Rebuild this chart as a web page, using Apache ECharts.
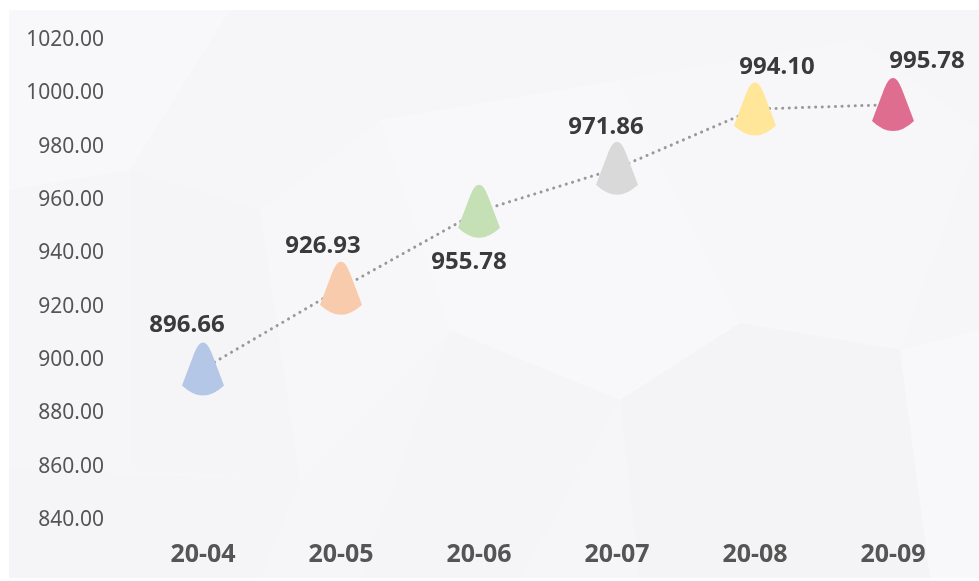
<!DOCTYPE html>
<html>
<head>
<meta charset="utf-8">
<script src="https://cdn.jsdelivr.net/npm/echarts@6/dist/echarts.min.js"></script>
<style>
  html, body { margin: 0; padding: 0; background: #fff; }
  #chart { width: 979px; height: 581px; }
</style>
</head>
<body>
<div id="chart"></div>
<script>
// 数据
var months = ["20-04", "20-05", "20-06", "20-07", "20-08", "20-09"];
var values = [896.66, 926.93, 955.78, 971.86, 994.10, 995.78];

// 样式（与数据分开）
var coneColors = ["#b4c7e7", "#f8cbad", "#c5e0b4", "#d9d9d9", "#ffe699", "#df6d8f"];
var labelPos = ["top", "top", "bottom", "top", "top", "top"];
var labelOffset = [[-16, -2], [-18, -1], [-10, 1], [-11, 0], [22, 0], [34, -2]];

// 锥形标记
var conePath = "path://M21,0 C25,0 28,6 31,14 L42,43 Q21,63 0,43 L11,14 C14,6 17,0 21,0 Z";

var chart = echarts.init(document.getElementById("chart"));

// 浅灰低多边形背景
var polys = [
  { pts: [[9, 10], [979, 10], [979, 578], [9, 578]], fill: "#f6f6f8" },
  { pts: [[9, 10], [230, 10], [130, 170], [9, 190]], fill: "#f8f8fa" },
  { pts: [[130, 170], [260, 210], [300, 480], [130, 470]], fill: "#f5f5f7" },
  { pts: [[260, 210], [380, 120], [450, 330], [300, 480]], fill: "#f7f7f9" },
  { pts: [[450, 330], [620, 400], [520, 578], [360, 578]], fill: "#f5f5f7" },
  { pts: [[620, 400], [740, 323], [900, 350], [930, 578], [640, 578]], fill: "#f4f4f6" },
  { pts: [[620, 80], [860, 40], [979, 130], [900, 350], [740, 323]], fill: "#f7f7f9" },
  { pts: [[380, 120], [620, 80], [740, 323], [620, 400], [450, 330]], fill: "#f8f8fa" },
  { pts: [[9, 470], [300, 480], [260, 578], [9, 578]], fill: "#f5f5f7" },
  { pts: [[900, 350], [979, 330], [979, 578], [930, 578]], fill: "#f8f8fa" }
];

var option = {
  backgroundColor: "#ffffff",
  textStyle: { fontFamily: "Noto Sans" },
  graphic: polys.map(function (p) {
    return {
      type: "polygon",
      silent: true,
      z: -10,
      shape: { points: p.pts },
      style: { fill: p.fill }
    };
  }),
  grid: { left: 134, right: 17, top: 40, bottom: 61 },
  xAxis: {
    type: "category",
    data: months,
    axisLine: { show: false },
    axisTick: { show: false },
    axisLabel: {
      margin: 22,
      fontSize: 25,
      fontWeight: "bold",
      color: "#555555"
    }
  },
  yAxis: {
    type: "value",
    min: 840,
    max: 1020,
    interval: 20,
    axisLine: { show: false },
    axisTick: { show: false },
    splitLine: { show: false },
    axisLabel: {
      margin: 30,
      fontSize: 21,
      color: "#555555",
      formatter: function (v) { return v.toFixed(2); }
    }
  },
  series: [
    {
      type: "line",
      data: values,
      symbol: "none",
      z: 1,
      lineStyle: { color: "#999999", width: 3, type: [0.1, 6.5], cap: "round" }
    },
    {
      type: "scatter",
      z: 3,
      symbol: conePath,
      symbolSize: [42, 53],
      itemStyle: { opacity: 1 },
      data: values.map(function (v, i) {
        return {
          value: v,
          itemStyle: { color: coneColors[i], opacity: 1 },
          label: {
            position: labelPos[i],
            offset: labelOffset[i],
            distance: labelPos[i] === "bottom" ? 11 : 3
          }
        };
      }),
      label: {
        show: true,
        fontSize: 24,
        fontWeight: "bold",
        color: "#3a3a3a",
        opacity: 1,
        formatter: function (p) { return p.value.toFixed(2); }
      }
    }
  ]
};

chart.setOption(option);
</script>
</body>
</html>
